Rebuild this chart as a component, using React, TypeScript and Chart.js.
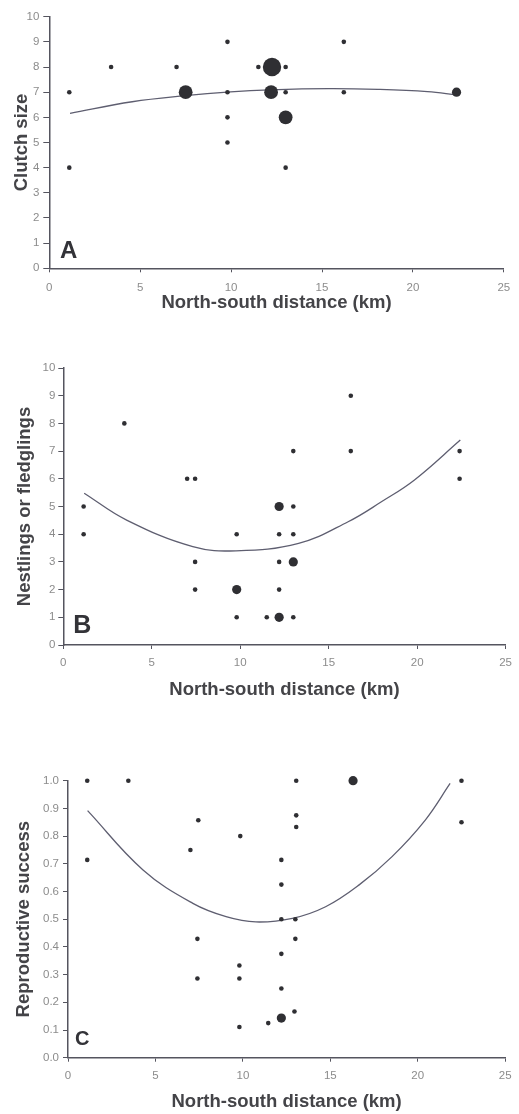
import React, { useEffect, useRef } from 'react';
import { Chart, registerables } from 'chart.js';

Chart.register(...registerables);

// ---------- Panel A: clutch size ----------
const aDist = [1.1, 1.1, 3.4, 7.0, 7.5, 9.8, 9.8, 9.8, 9.8, 11.5, 12.25, 12.2, 13.0, 13.0, 13.0, 13.0, 16.2, 16.2, 22.4];
const aClutch = [7, 4, 8, 8, 7, 9, 7, 6, 5, 8, 8, 7, 8, 7, 6, 4, 9, 7, 7];
const aCount = [1, 1, 1, 1, 3, 1, 1, 1, 1, 1, 4, 3, 1, 1, 3, 1, 1, 1, 2];
const aFitX = [1.14, 4.56, 7.47, 9.97, 12.14, 15.38, 18.09, 20.8, 22.42];
const aFitY = [6.16, 6.62, 6.86, 7.01, 7.09, 7.14, 7.11, 7.02, 6.89];

// ---------- Panel B: nestlings or fledglings ----------
const bDist = [1.15, 1.15, 3.45, 7.0, 7.45, 7.45, 7.45, 9.8, 9.8, 9.8, 11.5, 12.2, 12.2, 12.2, 12.2, 12.2, 13.0, 13.0, 13.0, 13.0, 13.0, 16.25, 16.25, 22.4, 22.4];
const bYoung = [5, 4, 8, 6, 6, 3, 2, 4, 2, 1, 1, 1, 5, 4, 3, 2, 7, 5, 4, 3, 1, 9, 7, 7, 6];
const bCount = [1, 1, 1, 1, 1, 1, 1, 1, 2, 1, 1, 2, 2, 1, 1, 1, 1, 1, 1, 2, 1, 1, 1, 1, 1];
const bFitX = [1.18, 3.58, 7.32, 9.76, 13.3, 16.1, 17.98, 19.85, 22.44];
const bFitY = [5.48, 4.51, 3.55, 3.40, 3.67, 4.45, 5.17, 5.96, 7.40];

// ---------- Panel C: reproductive success ----------
const cDist = [1.1, 1.1, 3.45, 7.0, 7.45, 7.4, 7.4, 9.85, 9.8, 9.8, 9.8, 11.45, 12.2, 12.2, 12.2, 12.2, 12.2, 12.2, 13.05, 13.05, 13.05, 13.0, 13.0, 12.95, 16.3, 22.5, 22.5];
const cSuccess = [1.0, 0.714, 1.0, 0.75, 0.857, 0.429, 0.286, 0.8, 0.333, 0.286, 0.111, 0.125, 0.143, 0.714, 0.625, 0.5, 0.375, 0.25, 1.0, 0.875, 0.833, 0.5, 0.429, 0.167, 1.0, 1.0, 0.85];
const cCount = [1, 1, 1, 1, 1, 1, 1, 1, 1, 1, 1, 1, 2, 1, 1, 1, 1, 1, 1, 1, 1, 1, 1, 1, 2, 1, 1];
const cFitX = [1.12, 4.29, 7.14, 9.04, 10.74, 12.83, 14.73, 16.63, 18.53, 20.43, 21.85];
const cFitY = [0.892, 0.678, 0.557, 0.509, 0.49, 0.503, 0.545, 0.623, 0.726, 0.858, 0.99];

const xTitleText = 'North-south distance (km)';

const FONT = "'Liberation Sans', Arial, Helvetica, sans-serif";
const TICK_COLOR = '#8c8c8c';
const TITLE_COLOR = '#444448';
const AXIS_COLOR = '#55555f';
const DOT_COLOR = '#2f2f33';
const CURVE_COLOR = '#5e5e70';

type PanelCfg = {
  xs: number[];
  ys: number[];
  ns: number[];
  fitX: number[];
  fitY: number[];
  yTitle: string;
  yMax: number;
  yStep: number;
  yDecimals: number;
  letter: string;
  letterSize: number;
  letterDx: number;
  letterDy: number;
  height: number;
  padTop: number;
  padRight: number;
  yWidth: number;
  xHeight: number;
  xTitlePad: number;
  yTitlePad: number;
  yTickLen: number;
  yTickPad: number;
  xTickPad: number;
};

const letterPlugin = {
  id: 'panelLetter',
  afterDraw(chart: any, _args: any, opts: any) {
    const { ctx, chartArea } = chart;
    ctx.save();
    ctx.fillStyle = '#333338';
    ctx.font = `bold ${opts.size}px ${FONT}`;
    ctx.textAlign = 'left';
    ctx.textBaseline = 'alphabetic';
    ctx.fillText(opts.text, chartArea.left + opts.dx, chartArea.bottom - opts.dy);
    ctx.restore();
  },
};

function Panel({ cfg, top }: { cfg: PanelCfg; top: number }) {
  const ref = useRef<HTMLCanvasElement | null>(null);
  useEffect(() => {
    if (!ref.current) return;
    const points = cfg.xs.map((x, i) => ({ x, y: cfg.ys[i] }));
    const fit = cfg.fitX.map((x, i) => ({ x, y: cfg.fitY[i] }));
    const chart = new Chart(ref.current, {
      type: 'scatter',
      data: {
        datasets: [
          {
            type: 'scatter',
            data: points,
            backgroundColor: DOT_COLOR,
            borderWidth: 0,
            pointRadius: cfg.ns.map((n) => 2.3 * n),
            pointHoverRadius: cfg.ns.map((n) => 2.3 * n),
            clip: false,
            order: 1,
          } as any,
          {
            type: 'line',
            data: fit,
            showLine: true,
            borderColor: CURVE_COLOR,
            borderWidth: 1.3,
            pointRadius: 0,
            tension: 0.4,
            fill: false,
            clip: false,
            order: 2,
          } as any,
        ],
      },
      options: {
        responsive: false,
        animation: false,
        layout: { padding: { left: 0, top: cfg.padTop, right: cfg.padRight, bottom: 0 } },
        plugins: {
          legend: { display: false },
          tooltip: { enabled: false },
          panelLetter: { text: cfg.letter, size: cfg.letterSize, dx: cfg.letterDx, dy: cfg.letterDy },
        } as any,
        scales: {
          x: {
            type: 'linear',
            min: 0,
            max: 25,
            afterFit: (s: any) => {
              s.height = cfg.xHeight;
            },
            ticks: {
              stepSize: 5,
              color: TICK_COLOR,
              font: { family: FONT, size: 11.5 },
              padding: cfg.xTickPad,
              maxRotation: 0,
            },
            grid: { display: true, drawOnChartArea: false, drawTicks: true, tickLength: 4, color: AXIS_COLOR, lineWidth: 1 },
            border: { display: true, color: AXIS_COLOR, width: 1.5 },
            title: {
              display: true,
              text: xTitleText,
              color: TITLE_COLOR,
              font: { family: FONT, size: 18.5, weight: 'bold' },
              padding: { top: 0, bottom: cfg.xTitlePad },
            },
          },
          y: {
            type: 'linear',
            min: 0,
            max: cfg.yMax,
            afterFit: (s: any) => {
              s.width = cfg.yWidth;
            },
            ticks: {
              stepSize: cfg.yStep,
              color: TICK_COLOR,
              font: { family: FONT, size: 11.5 },
              padding: cfg.yTickPad,
              callback: (v: any) => Number(v).toFixed(cfg.yDecimals),
            },
            grid: { display: true, drawOnChartArea: false, drawTicks: true, tickLength: cfg.yTickLen, color: AXIS_COLOR, lineWidth: 1 },
            border: { display: true, color: AXIS_COLOR, width: 1.5 },
            title: {
              display: true,
              text: cfg.yTitle,
              color: TITLE_COLOR,
              font: { family: FONT, size: 18.5, weight: 'bold' },
              padding: { top: cfg.yTitlePad, bottom: 0 },
            },
          },
        },
      },
      plugins: [letterPlugin],
    } as any);
    return () => chart.destroy();
  }, [cfg]);
  return (
    <canvas
      ref={ref}
      width={519}
      height={cfg.height}
      style={{ position: 'absolute', left: 0, top, width: 519, height: cfg.height }}
    />
  );
}

const panelA: PanelCfg = {
  xs: aDist, ys: aClutch, ns: aCount, fitX: aFitX, fitY: aFitY,
  yTitle: 'Clutch size', yMax: 10, yStep: 1, yDecimals: 0,
  letter: 'A', letterSize: 24, letterDx: 10.7, letterDy: 10.6,
  height: 320, padTop: 16.7, padRight: 8.3, yWidth: 49.3, xHeight: 51.7,
  xTitlePad: 5.9, yTitlePad: 10.9, yTickLen: 6, yTickPad: 4, xTickPad: 8.8,
};

const panelB: PanelCfg = {
  xs: bDist, ys: bYoung, ns: bCount, fitX: bFitX, fitY: bFitY,
  yTitle: 'Nestlings or fledglings', yMax: 10, yStep: 1, yDecimals: 0,
  letter: 'B', letterSize: 25, letterDx: 10, letterDy: 11.7,
  height: 370, padTop: 18, padRight: 10.7, yWidth: 63.3, xHeight: 75,
  xTitlePad: 18.9, yTitlePad: 13.9, yTickLen: 5, yTickPad: 3, xTickPad: 7,
};

const panelC: PanelCfg = {
  xs: cDist, ys: cSuccess, ns: cCount, fitX: cFitX, fitY: cFitY,
  yTitle: 'Reproductive success', yMax: 1, yStep: 0.1, yDecimals: 1,
  letter: 'C', letterSize: 20, letterDx: 7, letterDy: 12.7,
  height: 374, padTop: 40.7, padRight: 12, yWidth: 68, xHeight: 56.3,
  xTitlePad: 0.9, yTitlePad: 12.9, yTickLen: 5, yTickPad: 4, xTickPad: 7.4,
};

export default function App() {
  return (
    <div style={{ position: 'absolute', left: 0, top: 0, width: 519, height: 1114, background: '#fff' }}>
      <Panel cfg={panelA} top={0} />
      <Panel cfg={panelB} top={350} />
      <Panel cfg={panelC} top={740} />
    </div>
  );
}
